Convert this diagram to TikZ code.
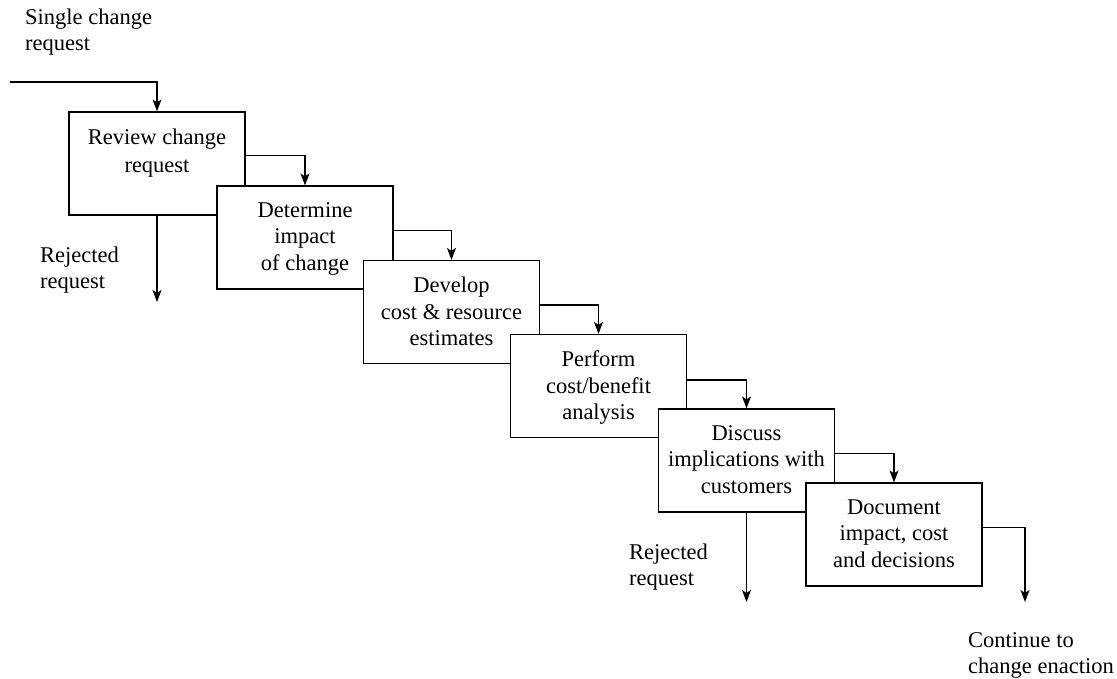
\documentclass[tikz,border=0pt]{standalone}
\usepackage{fontspec}
\setmainfont{Liberation Serif}
\usetikzlibrary{arrows.meta,calc}
\begin{document}
\begin{tikzpicture}[x=1pt,y=-1pt,
  box/.style={draw,fill=white,line width=1.2pt,minimum width=176pt,minimum height=103pt,inner sep=0pt},
  boxtext/.style={anchor=north,align=center,inner sep=0pt,font=\fontsize{22.5}{26.5}\selectfont},
  lab/.style={anchor=north west,align=left,inner sep=0pt,font=\fontsize{22.5}{26}\selectfont},
  conn/.style={line width=1.2pt,-{Stealth[length=12pt,width=9pt,inset=3pt]}}]
\useasboundingbox (0,0) rectangle (1117,679);
\node[box] (b1) at (157,163.5) {};
\node[box] (b2) at (305,237.5) {};
\node[box] (b3) at (451.5,312) {};
\node[box] (b4) at (598.5,386) {};
\node[box] (b5) at (746.5,460.5) {};
\node[box] (b6) at (894,534.5) {};
\node[boxtext] (t1) at ($(b1.north)+(0,17)$) {Review change\\[1.5pt]request};
\node[boxtext] (t2) at ($(b2.north)+(0,17)$) {Determine\\impact\\of change};
\node[boxtext] (t3) at ($(b3.north)+(0,17)$) {Develop\\cost \& resource\\estimates};
\node[boxtext] (t4) at ($(b4.north)+(0,17)$) {Perform\\cost/benefit\\analysis};
\node[boxtext] (t5) at ($(b5.north)+(0,17)$) {Discuss\\implications with\\customers};
\node[boxtext] (t6) at ($(b6.north)+(0,17)$) {Document\\impact, cost\\and decisions};
\node[lab] (lin) at (25,9) {Single change\\request};
\node[lab] (lr1) at (40,247) {Rejected\\request};
\node[lab] (lr2) at (629,544) {Rejected\\request};
\node[lab] (lout) at (968,632) {Continue to\\change enaction};
\coordinate (in) at (10,82);
\coordinate (r1) at (157,302);
\coordinate (r2) at (746.5,602);
\coordinate (out) at (1025,602);
\draw[conn] (in) -| (b1.north);
\draw[conn] ($(b1.east)+(0,-8)$) -| (b2.north);
\draw[conn] ($(b2.east)+(0,-7)$) -| (b3.north);
\draw[conn] ($(b3.east)+(0,-7)$) -| (b4.north);
\draw[conn] ($(b4.east)+(0,-6)$) -| (b5.north);
\draw[conn] ($(b5.east)+(0,-7)$) -| (b6.north);
\draw[conn] ($(b6.east)+(0,-7)$) -| (out);
\draw[conn] (b1.south) -- (r1);
\draw[conn] (b5.south) -- (r2);
\end{tikzpicture}
\end{document}
